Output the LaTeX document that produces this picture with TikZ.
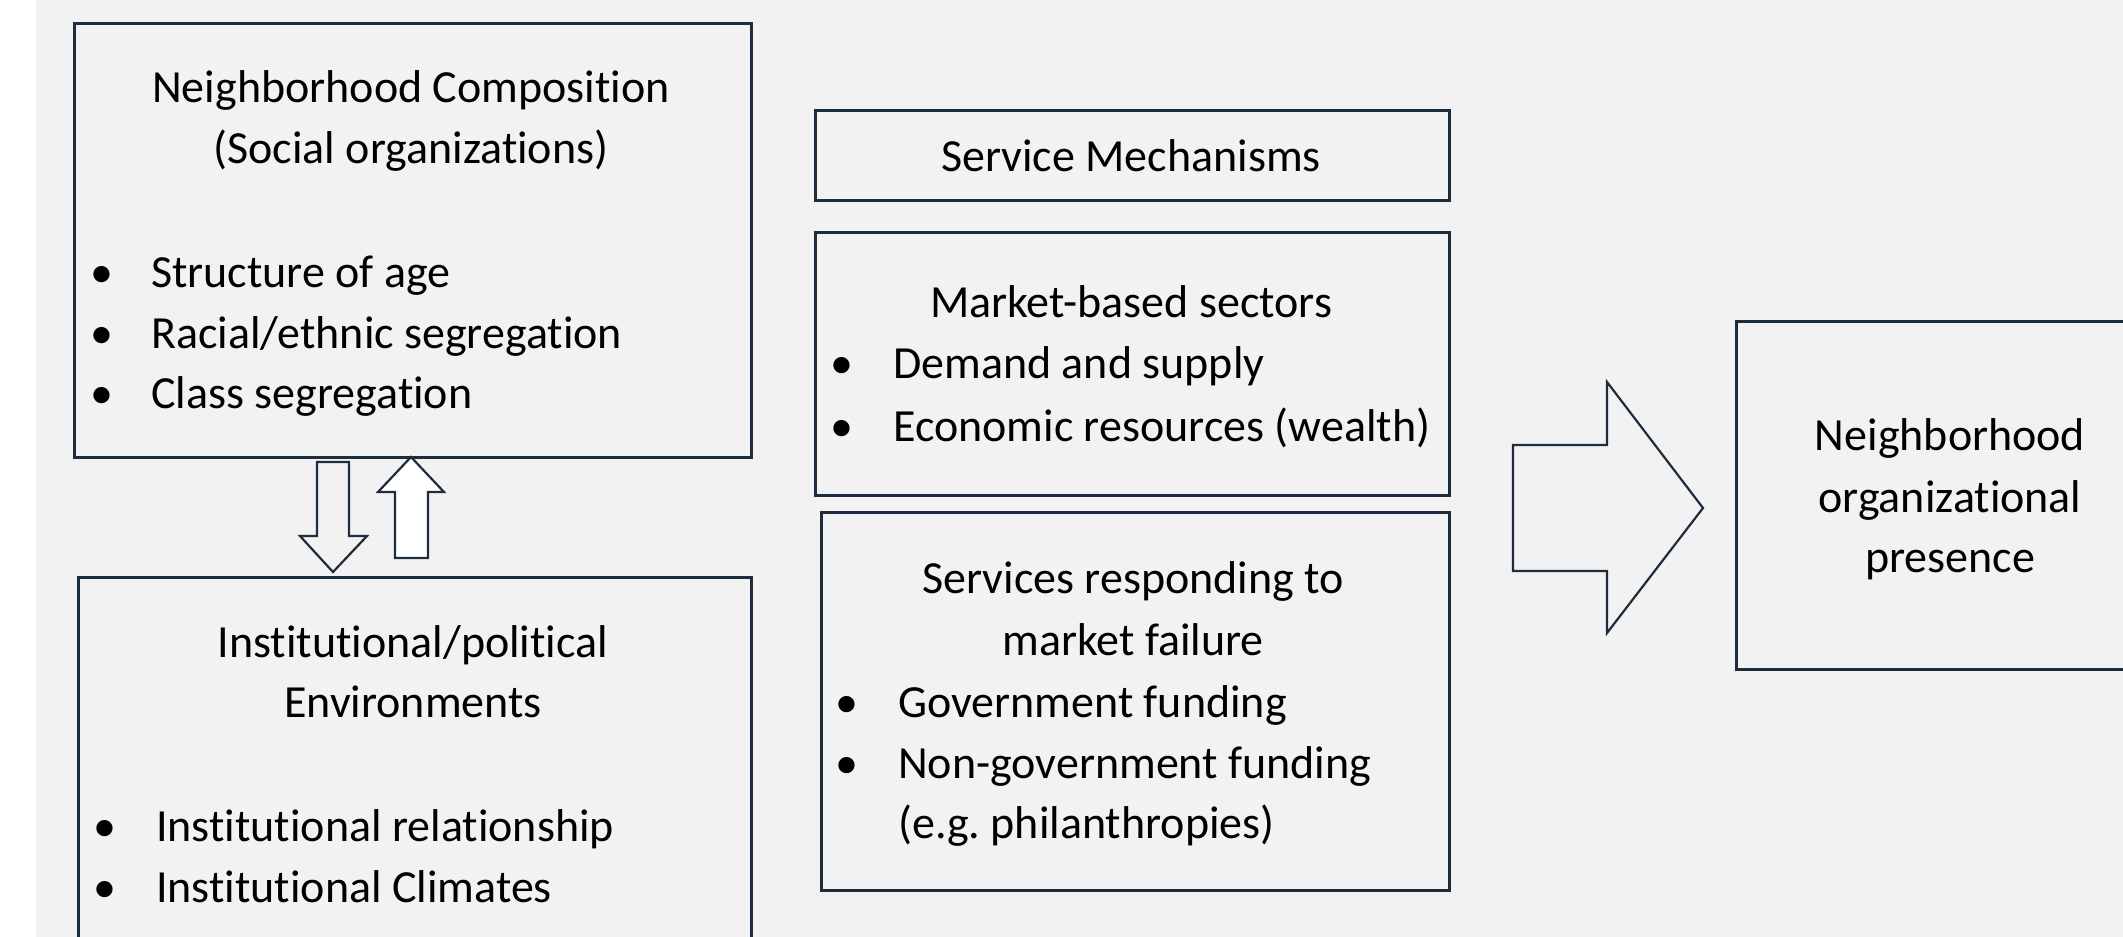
\documentclass[tikz,border=0pt]{standalone}
\usepackage{fontspec}
\setmainfont{Carlito}[Ligatures={NoCommon}]
\frenchspacing
\definecolor{bg}{HTML}{F2F2F2}
\definecolor{navy}{HTML}{1E2D3E}
\begin{document}
\begin{tikzpicture}[x=1pt,y=-1pt,
  box/.style={draw=navy, line width=2.5pt, fill=bg, inner sep=0pt, anchor=north west},
  txt/.style={inner sep=0pt, font=\fontsize{46}{55}\selectfont, text=black},
  blockarrow/.style={draw=navy, line width=2.2pt, line join=miter}]
\useasboundingbox (0,0) rectangle (2123,937);
\fill[white] (0,0) rectangle (2123,937);
\fill[bg] (36,0) rectangle (2123,937);

% boxes
\node[box, minimum width=677pt, minimum height=434pt] (comp) at (73,22) {};
\node[box, minimum width=673pt, minimum height=384pt] (inst) at (77,576) {};
\node[box, minimum width=634pt, minimum height=90pt] (serv) at (814,109) {};
\node[box, minimum width=634pt, minimum height=263pt] (market) at (814,231) {};
\node[box, minimum width=628pt, minimum height=378pt] (fail) at (820,511) {};
\node[box, minimum width=435pt, minimum height=348pt] (pres) at (1735,320) {};

% Box A text
\node[txt, anchor=base] (compT1) at (411,102) {Neighborhood Composition};
\node[txt, anchor=base] (compT2) at (411,163) {(Social organizations)};
\node[txt, anchor=base] (compB1) at (102,287) {•};
\node[txt, anchor=base] (compB2) at (102,348) {•};
\node[txt, anchor=base] (compB3) at (102,408) {•};
\node[txt, anchor=base west] (compL1) at (151,287) {Structure of age};
\node[txt, anchor=base west] (compL2) at (151,348) {Racial/ethnic segregation};
\node[txt, anchor=base west] (compL3) at (151,408) {Class segregation};

% Box B text
\node[txt, anchor=base] (instT1) at (413,657) {Institutional/political};
\node[txt, anchor=base] (instT2) at (413,717) {Environments};
\node[txt, anchor=base] (instB1) at (105,841) {•};
\node[txt, anchor=base] (instB2) at (105,902) {•};
\node[txt, anchor=base west] (instL1) at (156,841) {Institutional relationship};
\node[txt, anchor=base west] (instL2) at (156,902) {Institutional Climates};

% Box C text
\node[txt, anchor=base] (servT) at (1131,171) {Service Mechanisms};

% Box D text
\node[txt, anchor=base] (marketT) at (1131,317) {Market-based sectors};
\node[txt, anchor=base] (marketB1) at (842,378) {•};
\node[txt, anchor=base] (marketB2) at (842,441) {•};
\node[txt, anchor=base west] (marketL1) at (893,378) {Demand and supply};
\node[txt, anchor=base west] (marketL2) at (893,441) {Economic resources (wealth)};

% Box E text
\node[txt, anchor=base] (failT1) at (1133,593) {Services responding to};
\node[txt, anchor=base] (failT2) at (1133,655) {market failure};
\node[txt, anchor=base] (failB1) at (847,717) {•};
\node[txt, anchor=base] (failB2) at (847,778) {•};
\node[txt, anchor=base west] (failL1) at (898,717) {Government funding};
\node[txt, anchor=base west] (failL2) at (898,778) {Non-government funding};
\node[txt, anchor=base west] (failL3) at (898,838) {(e.g. philanthropies)};

% Box F text
\node[txt, anchor=base] (presT1) at (1950,450) {Neighborhood};
\node[txt, anchor=base] (presT2) at (1950,512) {organizational};
\node[txt, anchor=base] (presT3) at (1950,572) {presence};

% block arrows between composition and institutional boxes
\draw[blockarrow, fill=bg] (317,462) -- (349,462) -- (349,536) -- (367,536)
  -- (333,572) -- (300,536) -- (317,536) -- cycle;
\draw[blockarrow, fill=white] (395,558) -- (428,558) -- (428,492) -- (444,492)
  -- (411,457) -- (378,492) -- (395,492) -- cycle;

% big arrow toward presence box
\draw[blockarrow, fill=bg] (1513,445) -- (1607,445) -- (1607,382) -- (1703,508)
  -- (1607,633) -- (1607,571) -- (1513,571) -- cycle;
\end{tikzpicture}
\end{document}
